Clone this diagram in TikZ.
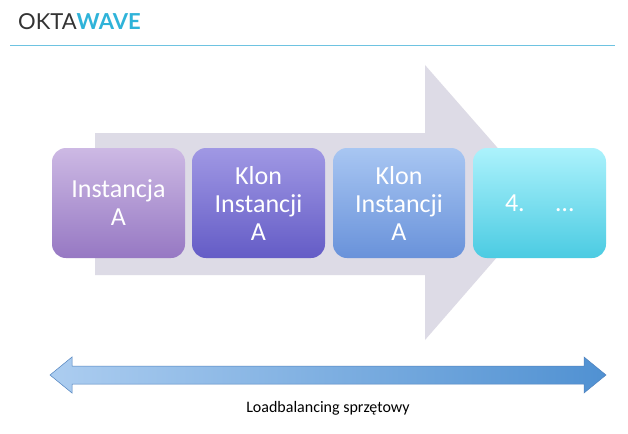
\documentclass[tikz,border=0pt]{standalone}
\usepackage{fontspec}
\setmainfont{Carlito}
\newfontfamily\logofont{Lato}
\begin{document}
\begin{tikzpicture}[x=1pt,y=-1pt,
  inst/.style={rounded corners=14pt, shading=axis, shading angle=0},
  lbl/.style={text=white, font=\fontsize{26}{28}\selectfont, align=center}]
\useasboundingbox (0,0) rectangle (628,433);
\fill[white] (0,0) rectangle (628,433);
\node[anchor=west, inner sep=0, font=\fontsize{22}{22}\selectfont] (logo) at (18,22) {{\logofont\color[HTML]{333333}OKTA}{\logofont\bfseries\color[HTML]{2FB3D9}WAVE}};
\coordinate (l1) at (10,45); \coordinate (l2) at (615,45);
\draw[color={rgb,255:red,110;green,195;blue,225}, line width=0.9pt] (l1) -- (l2);
% big arrow
\fill[color={rgb,255:red,221;green,219;blue,230}] (95,133) -- (425,133) -- (425,65) -- (545,202) -- (425,340) -- (425,275) -- (95,275) -- cycle;
% boxes
\shade[inst, top color={rgb,255:red,205;green,185;blue,228}, bottom color={rgb,255:red,150;green,120;blue,195}] (52,148) rectangle (185,258);
\node[lbl] (a) at (118.5,203) {Instancja\\A};
\shade[inst, top color={rgb,255:red,160;green,152;blue,228}, bottom color={rgb,255:red,100;green,92;blue,198}] (192,148) rectangle (325,258);
\node[lbl] (b) at (258.5,203) {Klon\\Instancji\\A};
\shade[inst, top color={rgb,255:red,168;green,198;blue,242}, bottom color={rgb,255:red,105;green,146;blue,218}] (333,148) rectangle (465,258);
\node[lbl] (c) at (399,203) {Klon\\Instancji\\A};
\shade[inst, top color={rgb,255:red,172;green,242;blue,252}, bottom color={rgb,255:red,75;green,203;blue,226}] (473,148) rectangle (606,258);
\node[lbl] (d) at (539.5,203) {4.\hspace{1.2em}\dots};
% double arrow
\shade[left color={rgb,255:red,172;green,205;blue,240}, right color={rgb,255:red,80;green,145;blue,210}, draw={rgb,255:red,80;green,130;blue,190}, line width=0.5pt]
  (50,375) -- (72,357) -- (72,366) -- (584,366) -- (584,357) -- (606,375) -- (584,393) -- (584,384) -- (72,384) -- (72,393) -- cycle;
\node[font=\fontsize{16}{18}\selectfont] (t) at (328,408) {Loadbalancing sprzętowy};
\end{tikzpicture}
\end{document}
